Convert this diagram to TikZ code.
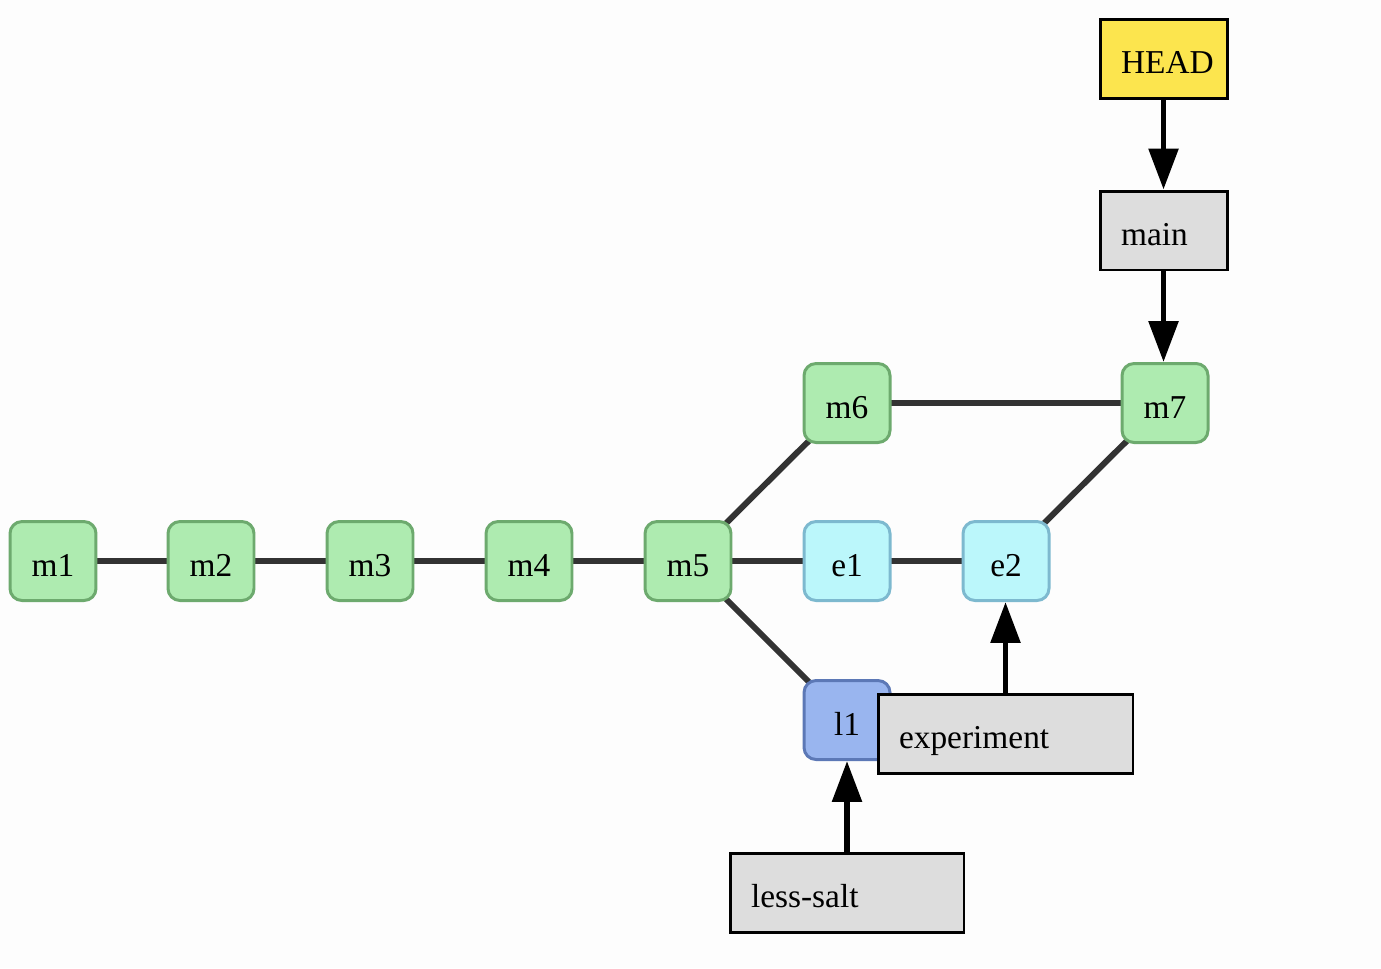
\documentclass[tikz,border=0pt]{standalone}
\usepackage{fontspec}
\setmainfont{Liberation Serif}
\usetikzlibrary{arrows.meta,backgrounds}
\pgfdeclarelayer{bottom}
\pgfsetlayers{bottom,background,main}
\definecolor{bg}{HTML}{FDFDFD}
\definecolor{gfill}{HTML}{AEEBB0}
\definecolor{gdraw}{HTML}{6DAA6E}
\definecolor{efill}{HTML}{BBF7FB}
\definecolor{edraw}{HTML}{7DB9CF}
\definecolor{lfill}{HTML}{99B5EF}
\definecolor{ldraw}{HTML}{5C78B6}
\definecolor{rfill}{HTML}{DDDDDD}
\definecolor{hfill}{HTML}{FCE54E}
\definecolor{edgec}{HTML}{333333}
\tikzset{
  commit/.style={draw, line width=1.7pt, rounded corners=0.24cm, minimum width=1.72cm, minimum height=1.58cm, inner sep=0pt, text height=0.62cm, text depth=0pt, font=\fontsize{19}{22}\selectfont},
  mcommit/.style={commit, fill=gfill, draw=gdraw},
  ecommit/.style={commit, fill=efill, draw=edraw},
  lcommit/.style={commit, fill=lfill, draw=ldraw},
  ref/.style={draw=black, line width=1.7pt, fill=rfill, minimum height=1.58cm, inner ysep=0pt, inner xsep=0.42cm, text height=0.58cm, text depth=0pt, align=left, font=\fontsize{19}{22}\selectfont},
  link/.style={draw=edgec, line width=3.4pt},
  ptr/.style={draw=black, line width=3.3pt, -{Triangle[length=0.82cm, width=0.58cm]}}
}
\begin{document}
\begin{tikzpicture}[x=0.02cm, y=-0.02cm]
\begin{pgfonlayer}{bottom}
\fill[bg] (0,0) rectangle (1381,968);
\end{pgfonlayer}
\useasboundingbox (0,0) rectangle (1381,968);
\node[mcommit] (m1) at (53,561) {m1};
\node[mcommit] (m2) at (211,561) {m2};
\node[mcommit] (m3) at (370,561) {m3};
\node[mcommit] (m4) at (529,561) {m4};
\node[mcommit] (m5) at (688,561) {m5};
\node[ecommit] (e1) at (847,561) {e1};
\node[ecommit] (e2) at (1006,561) {e2};
\node[mcommit] (m6) at (847,403) {m6};
\node[mcommit] (m7) at (1165,403) {m7};
\node[lcommit] (l1) at (847,720) {l1};
\node[ref, fill=hfill, text width=1.70cm] (head) at (1163.5,59) {HEAD};
\node[ref, text width=1.70cm] (main) at (1163.5,230.5) {main};
\node[ref, text width=4.26cm] (exp) at (1005.5,733.5) {experiment};
\node[ref, text width=3.84cm] (salt) at (847,892.5) {less-salt};
\begin{scope}[on background layer]
\draw[link] (m1.center) -- (m2.center);
\draw[link] (m2.center) -- (m3.center);
\draw[link] (m3.center) -- (m4.center);
\draw[link] (m4.center) -- (m5.center);
\draw[link] (m5.center) -- (e1.center);
\draw[link] (e1.center) -- (e2.center);
\draw[link] (m5.center) -- (m6.center);
\draw[link] (m6.center) -- (m7.center);
\draw[link] (e2.center) -- (m7.center);
\draw[link] (m5.center) -- (l1.center);
\end{scope}
\draw[ptr] (head.south) -- (main.north);
\draw[ptr] (main.south) -- (main.south |- m7.north);
\draw[ptr] (exp.north) -- (exp.north |- e2.south);
\draw[ptr] (salt.north) -- (l1.south);
\end{tikzpicture}
\end{document}
